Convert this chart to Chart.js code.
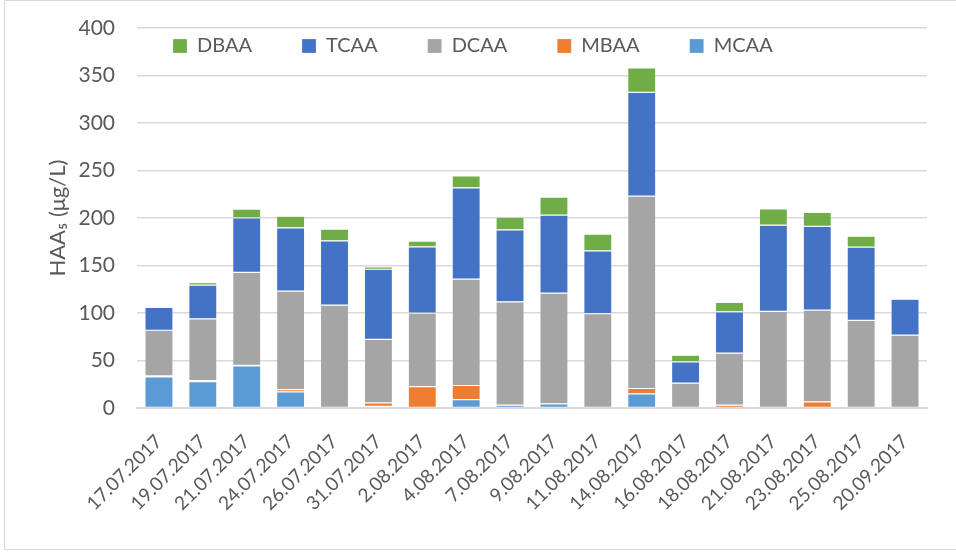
<!DOCTYPE html>
<html>
<head>
<meta charset="utf-8">
<script src="https://cdn.jsdelivr.net/npm/chart.js@4.4.1/dist/chart.umd.min.js"></script>
<style>
    body { margin: 0; background: #fff; }
    #wrap { position: relative; width: 956px; height: 553px; overflow: hidden; }
    #frame { position: absolute; left: 4px; top: 0; width: 960px; height: 550px; border: 1px solid #d9d9d9; box-sizing: border-box; }
    canvas { position: absolute; left: 0; top: 0; }
</style>
</head>
<body>
<div id="wrap">
    <div id="frame"></div>
    <canvas id="haaChart" width="956" height="553"></canvas>
</div>
<script>
// sampling dates
var dates = ["17.07.2017", "19.07.2017", "21.07.2017", "24.07.2017", "26.07.2017", "31.07.2017",
    "2.08.2017", "4.08.2017", "7.08.2017", "9.08.2017", "11.08.2017", "14.08.2017",
    "16.08.2017", "18.08.2017", "21.08.2017", "23.08.2017", "25.08.2017", "20.09.2017"];

// HAA species, µg/L (stacked bottom -> top)
var mcaa = [33, 28, 44.5, 17.2, 0, 2, 0, 9.1, 3.2, 4.6, 0, 15.1, 0, 0, 0, 0, 0, 0];
var mbaa = [1, 1, 0.5, 2.4, 0, 3.5, 22.8, 14.8, 0, 0, 0, 5.6, 0, 3.2, 0, 6.7, 0, 0];
var dcaa = [48, 65, 97.8, 103.6, 108.4, 67, 77.2, 111.9, 108.7, 116.4, 99.6, 202.5, 26.3, 54.7, 101.8, 96.5, 92.3, 76.8];
var tcaa = [24, 35.5, 57.5, 66.6, 67.7, 73.7, 69.8, 96.1, 75.8, 82.2, 66, 109.1, 22.5, 43.5, 90.8, 88, 77.2, 37.9];
var dbaa = [1, 2.5, 9.2, 12.2, 12.3, 2.5, 6, 12.6, 13.3, 18.9, 17.6, 25.6, 7, 9.8, 17.2, 14.8, 11.5, 0];

var yTicks = [0, 50, 100, 150, 200, 250, 300, 350, 400];

var txtColor = '#595959';
var gridColor = '#d9d9d9';
var fontName = 'Lato, "Open Sans", sans-serif';

function ds(label, values, color) {
    return {
        label: label,
        data: values,
        backgroundColor: color,
        borderColor: 'rgba(255,255,255,0.35)',
        borderWidth: 0.6,
        borderSkipped: false,
        categoryPercentage: 1,
        barPercentage: 0.64
    };
}

// legend sits in one row inside the plot, like the original
var legendInside = {
    id: 'legendInside',
    beforeUpdate: function (chart) {
        if (chart.legend) {
            chart.legend.isHorizontal = function () { return true; };
        }
    },
    afterLayout: function (chart) {
        var lg = chart.legend;
        var pad = lg.options.labels.padding;
        var w = lg.right - lg.left;
        lg.left = chart.chartArea.left + 36 - pad;
        lg.right = lg.left + w;
        lg.top = chart.chartArea.top + 8 - pad;
    }
};

var chart = new Chart(document.getElementById("haaChart"), {
    type: 'bar',
    data: {
        labels: dates,
        datasets: [
            ds('MCAA', mcaa, '#5B9BD5'),
            ds('MBAA', mbaa, '#ED7D31'),
            ds('DCAA', dcaa, '#A5A5A5'),
            ds('TCAA', tcaa, '#4472C4'),
            ds('DBAA', dbaa, '#70AD47')
        ]
    },
    plugins: [legendInside],
    options: {
        responsive: false,
        animation: false,
        layout: { padding: { left: 45, right: 29, top: 28, bottom: 16 } },
        plugins: {
            tooltip: { enabled: false },
            legend: {
                position: 'chartArea',
                fullSize: false,
                align: 'start',
                reverse: true,
                labels: {
                    boxWidth: 14,
                    boxHeight: 14,
                    padding: 50,
                    color: txtColor,
                    font: { family: fontName, size: 20 }
                }
            }
        },
        scales: {
            x: {
                stacked: true,
                grid: { display: false, drawTicks: false },
                border: { color: gridColor, width: 2 },
                ticks: {
                    color: txtColor,
                    font: { family: fontName, size: 19 },
                    minRotation: 45,
                    maxRotation: 45,
                    autoSkip: false,
                    padding: 22
                }
            },
            y: {
                stacked: true,
                min: 0,
                max: 400,
                afterBuildTicks: function (scale) {
                    scale.ticks = yTicks.map(function (v) { return { value: v }; });
                },
                afterFit: function (scale) {
                    scale.width = 92;
                    // tick padding otherwise gets added on top of the plot
                    scale.paddingTop = 12;
                    scale.paddingBottom = 12;
                },
                grid: { color: gridColor, lineWidth: 1.5, drawTicks: false },
                border: { display: false },
                ticks: {
                    color: txtColor,
                    font: { family: fontName, size: 21 },
                    padding: 22
                },
                title: {
                    display: true,
                    text: 'HAA\u2085 (\u03BCg/L)',
                    color: txtColor,
                    font: { family: fontName, size: 22 },
                    padding: { top: 0, bottom: 10 }
                }
            }
        }
    }
});
</script>
</body>
</html>
